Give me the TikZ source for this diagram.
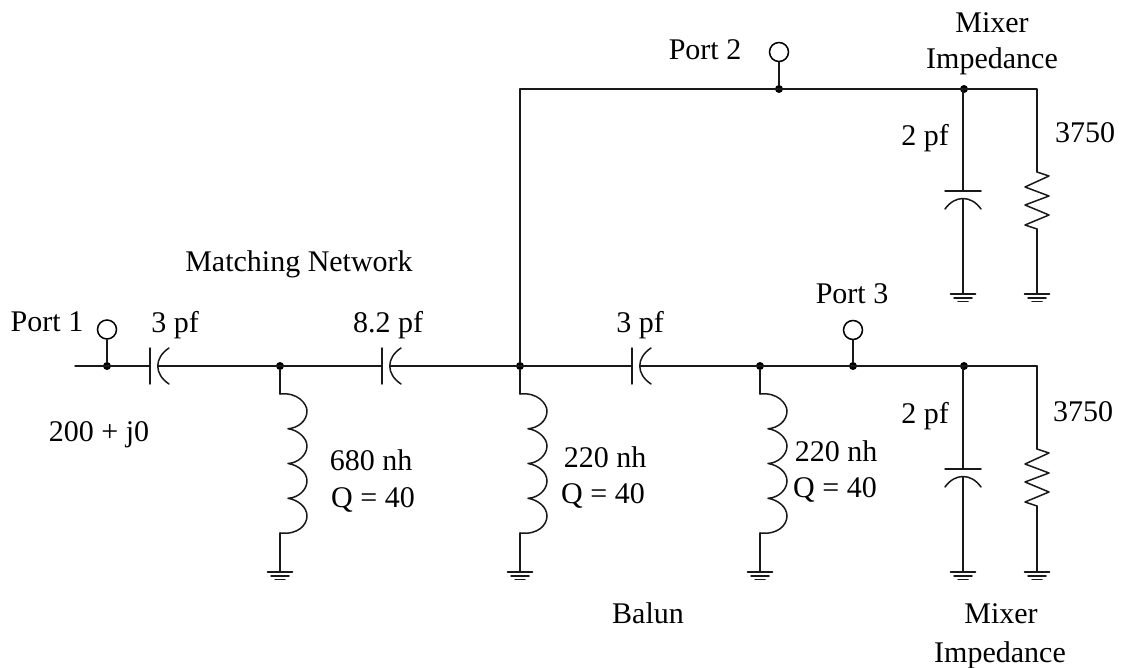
\documentclass[tikz,border=0pt]{standalone}
\usepackage{fontspec}
\setmainfont{Liberation Serif}
\tikzset{
  wire/.style={line width=1.5pt,line cap=round,line join=round,black!90},
  junction/.style={circle,fill=black,inner sep=0pt,minimum size=8pt},
  port/.style={circle,draw=black,line width=1.5pt,fill=white,inner sep=0pt,minimum size=19pt},
  label/.style={anchor=base,inner sep=0pt,font=\fontsize{30}{34}\selectfont}
}
% series capacitor: plate at #1, curved plate to the right
\newcommand{\seriescap}[3]{% x, y, name
  \coordinate (#3a) at (#1,#2);
  \coordinate (#3b) at (#1+8,#2);
  \draw[wire] (#1,#2-18) -- (#1,#2+18);
  \draw[wire] (#1+19,#2-18) .. controls (#1+4,#2-8) and (#1+4,#2+8) .. (#1+19,#2+18);
}
% shunt capacitor
\newcommand{\shuntcap}[3]{% x, y of plate, name
  \coordinate (#3a) at (#1,#2);
  \coordinate (#3b) at (#1,#2+8);
  \draw[wire] (#1-18,#2) -- (#1+18,#2);
  \draw[wire] (#1-18,#2+18) .. controls (#1-8,#2+4) and (#1+8,#2+4) .. (#1+18,#2+18);
}
% inductor
\newcommand{\coil}[3]{% x, y top, name
  \coordinate (#3a) at (#1,#2);
  \coordinate (#3b) at (#1,#2+139);
  \draw[wire] (#1,#2)
    .. controls (#1+18,#2-2) and (#1+27,#2+10) .. (#1+27,#2+17)
    .. controls (#1+27,#2+27) and (#1+18,#2+34) .. (#1+8,#2+34.75)
    .. controls (#1+18,#2+36) and (#1+27,#2+44) .. (#1+27,#2+52)
    .. controls (#1+27,#2+61) and (#1+18,#2+69) .. (#1+8,#2+69.5)
    .. controls (#1+18,#2+71) and (#1+27,#2+78) .. (#1+27,#2+87)
    .. controls (#1+27,#2+96) and (#1+18,#2+104) .. (#1+8,#2+104.25)
    .. controls (#1+18,#2+106) and (#1+27,#2+113) .. (#1+27,#2+122)
    .. controls (#1+27,#2+131) and (#1+18,#2+141) .. (#1,#2+139);
}
% resistor
\newcommand{\zigzag}[3]{% x, y top, name
  \coordinate (#3a) at (#1,#2);
  \coordinate (#3b) at (#1,#2+57);
  \draw[wire] (#1,#2) -- (#1+12,#2+4) -- (#1-12,#2+15) -- (#1+12,#2+24) -- (#1-12,#2+33) -- (#1+12,#2+43) -- (#1-12,#2+53) -- (#1,#2+57);
}
% ground
\newcommand{\gnd}[3]{% x, y, name
  \coordinate (#3) at (#1,#2);
  \draw[wire] (#1-12.5,#2) -- (#1+12.5,#2);
  \draw[wire] (#1-9,#2+4) -- (#1+9,#2+4);
  \draw[wire] (#1-5,#2+7.5) -- (#1+5,#2+7.5);
}
\begin{document}
\begin{tikzpicture}[x=1pt,y=-1pt]
\useasboundingbox (0,0) rectangle (1122,668);

\coordinate (in) at (75,366);
\node[junction] (j1) at (107,366) {};
\node[junction] (j2) at (280,366) {};
\node[junction] (j3) at (520,366) {};
\node[junction] (j4) at (760,366) {};
\node[junction] (j5) at (853,366) {};
\node[junction] (j6) at (964,366) {};
\coordinate (c6) at (1037,366);
\node[junction] (t1) at (779,89) {};
\node[junction] (t2) at (964,89) {};
\coordinate (tl) at (520,89);
\coordinate (tr) at (1037,89);
\node[port] (p1) at (107,329.5) {};
\node[port] (p2) at (779,52) {};
\node[port] (p3) at (853,330) {};

\seriescap{150}{366}{ca}
\seriescap{382}{366}{cb}
\seriescap{632}{366}{cc}
\coil{280}{394}{la}
\coil{520}{394}{lb}
\coil{760}{394}{lc}
\shuntcap{963}{191}{cd}
\shuntcap{963}{469}{ce}
\zigzag{1037}{172}{ra}
\zigzag{1037}{449}{rb}
\gnd{280}{572}{ga}
\gnd{520}{572}{gb}
\gnd{760}{572}{gc}
\gnd{963}{294}{gd}
\gnd{1037}{294}{ge}
\gnd{963}{572}{gf}
\gnd{1037}{572}{gg}

\draw[wire] (in) -- (caa);
\draw[wire] (cab) -- (cba);
\draw[wire] (cbb) -- (cca);
\draw[wire] (ccb) -- (c6);
\draw[wire] (p1) -- (j1);
\draw[wire] (p2) -- (t1);
\draw[wire] (p3) -- (j5);
\draw[wire] (j3) -- (tl) -- (tr) -- (raa);
\draw[wire] (rab) -- (ge);
\draw[wire] (rba) -- (c6);
\draw[wire] (rbb) -- (gg);
\draw[wire] (cda |- t2) -- (cda);
\draw[wire] (cdb) -- (gd);
\draw[wire] (cea |- j6) -- (cea);
\draw[wire] (ceb) -- (gf);
\draw[wire] (j2) -- (laa);
\draw[wire] (lab) -- (ga);
\draw[wire] (j3) -- (lba);
\draw[wire] (lbb) -- (gb);
\draw[wire] (j4) -- (lca);
\draw[wire] (lcb) -- (gc);

\node[label] (t01) at (47,331) {Port 1};
\node[label] (t02) at (175,333) {3 pf};
\node[label] (t03) at (99,441) {200 + j0};
\node[label] (t04) at (299,272) {Matching Network};
\node[label] (t05) at (388,333) {8.2 pf};
\node[label] (t06) at (640,333) {3 pf};
\node[label] (t07) at (371,470) {680 nh};
\node[label] (t08) at (373,507) {Q = 40};
\node[label] (t09) at (605,467) {220 nh};
\node[label] (t10) at (603,503) {Q = 40};
\node[label] (t11) at (836,461) {220 nh};
\node[label] (t12) at (835,497) {Q = 40};
\node[label] (t13) at (705,60) {Port 2};
\node[label] (t14) at (992,33) {Mixer};
\node[label] (t15) at (992,69) {Impedance};
\node[label] (t16) at (925,146) {2 pf};
\node[label] (t17) at (1085,143) {3750};
\node[label] (t18) at (852,304) {Port 3};
\node[label] (t19) at (925,423) {2 pf};
\node[label] (t20) at (1083,421) {3750};
\node[label] (t21) at (648,623) {Balun};
\node[label] (t22) at (1001,623) {Mixer};
\node[label] (t23) at (1000,662) {Impedance};
\end{tikzpicture}
\end{document}
